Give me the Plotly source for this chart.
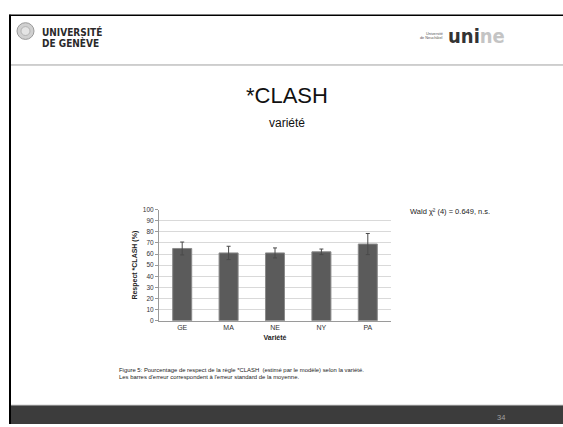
import plotly.graph_objects as go

W, H = 563, 427

categories = ["GE", "MA", "NE", "NY", "PA"]
values = [65, 61, 61, 62, 69]
errors = [5.8, 6.0, 4.5, 2.5, 9.5]
y_ticks = list(range(0, 101, 10))

FONT = "Liberation Sans, Arial, sans-serif"


def px(x):
    return x / W


def py(y):
    return 1 - y / H


fig = go.Figure()
fig.add_trace(go.Bar(
    x=categories, y=values,
    marker=dict(color="#5b5b5b", line=dict(color="#8a8a8a", width=1)),
    error_y=dict(type="data", array=errors, visible=True,
                 color="#4a4a4a", thickness=1, width=2),
    width=0.41,
    showlegend=False,
))

shapes = []
# header separator
shapes.append(dict(type="line", xref="paper", yref="paper",
                   x0=px(11), x1=px(563), y0=py(62), y1=py(62),
                   line=dict(color="#a0a0a0", width=1)))
# top frame line
shapes.append(dict(type="line", xref="paper", yref="paper",
                   x0=px(9), x1=px(563), y0=py(11.5), y1=py(11.5),
                   line=dict(color="#000000", width=1.5)))
# bottom dark bar
shapes.append(dict(type="rect", xref="paper", yref="paper",
                   x0=px(10), x1=px(563), y0=py(427), y1=py(408),
                   fillcolor="#3c3c3c", line=dict(width=0)))
shapes.append(dict(type="line", xref="paper", yref="paper",
                   x0=px(10), x1=px(563), y0=py(408), y1=py(408),
                   line=dict(color="#8a8a8a", width=1)))
# left frame line
shapes.append(dict(type="line", xref="paper", yref="paper",
                   x0=px(10), x1=px(10), y0=py(11), y1=py(427),
                   line=dict(color="#000000", width=2)))
# seal
shapes.append(dict(type="circle", xref="paper", yref="paper",
                   x0=px(17), x1=px(34), y0=py(36), y1=py(19),
                   fillcolor="#d0d0d0", line=dict(color="#9a9a9a", width=1)))
shapes.append(dict(type="circle", xref="paper", yref="paper",
                   x0=px(21), x1=px(30), y0=py(32), y1=py(23),
                   fillcolor="#e4e4e4", line=dict(color="#a8a8a8", width=0.8)))

annotations = []


def txt(text, x, y, size, color="#000000", anchor="left", bold=False, yanchor="middle", family=FONT):
    if bold:
        text = "<b>" + text + "</b>"
    annotations.append(dict(text=text, xref="paper", yref="paper",
                            x=px(x), y=py(y), xanchor=anchor, yanchor=yanchor,
                            showarrow=False,
                            font=dict(family=family, size=size, color=color)))


txt("UNIVERSITÉ", 40, 28, 10, "#2a2a2a", bold=True, family="DejaVu Sans Condensed, Liberation Sans")
txt("DE GENÈVE", 40, 40, 10, "#2a2a2a", bold=True, family="DejaVu Sans Condensed, Liberation Sans")
txt("Université", 445, 30, 3.8, "#555555", anchor="right")
txt("de Neuchâtel", 445, 35, 3.8, "#555555", anchor="right")
annotations.append(dict(
    text="<b><span style='color:#333333'>uni</span><span style='color:#c4c4c4'>ne</span></b>",
    xref="paper", yref="paper", x=px(446), y=py(33), xanchor="left", yanchor="middle",
    showarrow=False, font=dict(family="DejaVu Sans Condensed, Liberation Sans", size=20)))

txt("*CLASH", 287, 93, 22, "#111111", anchor="center")
txt("variété", 287, 121, 12, "#111111", anchor="center")
txt("Wald χ² (4) = 0.649, n.s.", 408, 211, 7.5, "#222222")
txt("Figure 5: Pourcentage de respect de la règle *CLASH  (estimé par le modèle) selon la variété.",
    117, 372, 5.9, "#222222")
txt("Les barres d'erreur correspondent à l'erreur standard de la moyenne.",
    117, 379, 5.9, "#222222")
txt("34", 507, 420, 7.5, "#a0a0a0", anchor="right")

fig.update_layout(
    width=W, height=H, autosize=False,
    margin=dict(l=0, r=0, t=0, b=0),
    paper_bgcolor="#ffffff", plot_bgcolor="#ffffff",
    font=dict(family=FONT, color="#333333"),
    shapes=shapes, annotations=annotations,
    bargap=0.59,
    xaxis=dict(domain=[px(159), px(391)],
               showline=True, linecolor="#9a9a9a", linewidth=1,
               ticks="", tickfont=dict(size=7, color="#333333"),
               title=dict(text="<b>Variété</b>", font=dict(size=7, color="#222222"), standoff=4),
               showgrid=False, zeroline=False),
    yaxis=dict(domain=[py(322), py(209)], range=[0, 100],
               tickvals=y_ticks, ticks="outside", ticklen=3, tickcolor="#9a9a9a",
               showline=True, linecolor="#9a9a9a", linewidth=1,
               tickfont=dict(size=6.5, color="#333333"),
               showgrid=True, gridcolor="#d9d9d9", gridwidth=1, zeroline=False,
               title=dict(text="<b>Respect *CLASH (%)</b>", font=dict(size=7, color="#222222"), standoff=4)),
)

fig.write_html("out.html", config={"displayModeBar": False},
               post_script="document.body.style.margin='0px';")
